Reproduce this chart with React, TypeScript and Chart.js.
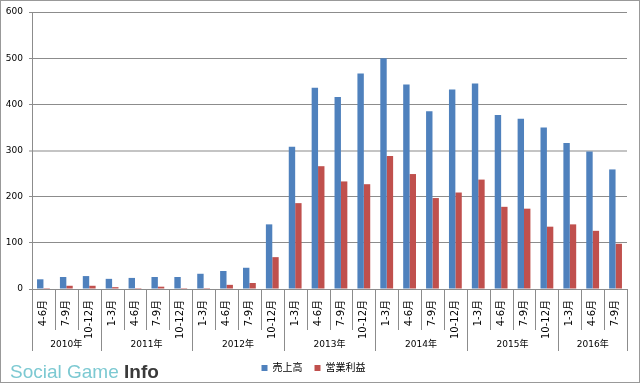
import React, { useEffect, useRef } from 'react';
import { Chart, registerables } from 'chart.js';
Chart.register(...registerables);

const quarters = [
  '4-6月', '7-9月', '10-12月',
  '1-3月', '4-6月', '7-9月', '10-12月',
  '1-3月', '4-6月', '7-9月', '10-12月',
  '1-3月', '4-6月', '7-9月', '10-12月',
  '1-3月', '4-6月', '7-9月', '10-12月',
  '1-3月', '4-6月', '7-9月', '10-12月',
  '1-3月', '4-6月', '7-9月',
];
const years = ['2010年', '2011年', '2012年', '2013年', '2014年', '2015年', '2016年'];
const yearSpans = [3, 4, 4, 4, 4, 4, 3];
const sales = [21, 26, 28, 22, 24, 26, 26, 33, 39, 46, 140, 308, 436, 416, 467, 500, 443, 385, 432, 445, 377, 369, 350, 316, 298, 259];
const profit = [2, 7, 7, 4, 2, 5, 2, 2, 9, 13, 69, 186, 266, 233, 227, 288, 249, 197, 209, 237, 178, 174, 135, 140, 126, 98];
const seriesNames = ['売上高', '営業利益'];
const yTicks = [0, 100, 200, 300, 400, 500, 600];

const FAMILY = "'DejaVu Sans', 'Noto Sans CJK JP', sans-serif";
const BLUE = '#4F81BD';
const RED = '#C0504D';
const GRID = '#8c8c8c';

const groupPlugin = {
  id: 'groupAxis',
  afterDraw(chart: any) {
    const ctx = chart.ctx;
    const xs = chart.scales.x;
    const area = chart.chartArea;
    const n = quarters.length;
    const step = (xs.right - xs.left) / n;
    const boundaries = new Set<number>();
    let acc = 0;
    boundaries.add(0);
    yearSpans.forEach((s) => { acc += s; boundaries.add(acc); });
    ctx.save();
    ctx.strokeStyle = GRID;
    ctx.lineWidth = 1;
    for (let i = 0; i <= n; i++) {
      const x = Math.round(xs.left + i * step) + 0.5;
      ctx.beginPath();
      ctx.moveTo(x, area.bottom);
      ctx.lineTo(x, boundaries.has(i) ? 351 : 330);
      ctx.stroke();
    }
    ctx.fillStyle = '#000';
    ctx.font = `9px ${FAMILY}`;
    ctx.textAlign = 'center';
    ctx.textBaseline = 'middle';
    let start = 0;
    years.forEach((y, k) => {
      const end = start + yearSpans[k];
      const cx = xs.left + ((start + end) / 2) * step;
      ctx.fillText(y, cx, 345);
      start = end;
    });
    // watermark
    ctx.textAlign = 'left';
    ctx.textBaseline = 'alphabetic';
    ctx.font = `19px 'Liberation Sans', sans-serif`;
    ctx.fillStyle = '#7cc9d2';
    const a = 'Social Game ';
    ctx.fillText(a, 10, 378);
    const w = ctx.measureText(a).width;
    ctx.font = `bold 19px 'Liberation Sans', sans-serif`;
    ctx.fillStyle = '#3a3a3a';
    ctx.fillText('Info', 10 + w, 378);
    // frame
    ctx.strokeStyle = '#999';
    ctx.strokeRect(0.5, 0.5, chart.width - 1, chart.height - 1);
    ctx.restore();
  },
};

const bgPlugin = {
  id: 'bg',
  beforeDraw(chart: any) {
    const ctx = chart.ctx;
    ctx.save();
    ctx.fillStyle = '#fff';
    ctx.fillRect(0, 0, chart.width, chart.height);
    ctx.restore();
  },
};

export default function App() {
  const ref = useRef<HTMLCanvasElement>(null);
  useEffect(() => {
    if (!ref.current) return;
    const chart = new Chart(ref.current, {
      type: 'bar',
      data: {
        labels: quarters,
        datasets: [
          { label: seriesNames[0], data: sales, backgroundColor: BLUE, borderWidth: 0 },
          { label: seriesNames[1], data: profit, backgroundColor: RED, borderWidth: 0 },
        ],
      },
      options: {
        responsive: false,
        animation: false,
        layout: { padding: { left: 0, right: 13, top: 12, bottom: 0 } },
        datasets: { bar: { categoryPercentage: 0.56, barPercentage: 1 } } as any,
        scales: {
          x: {
            offset: true,
            grid: { display: false },
            border: { display: false },
            ticks: {
              autoSkip: false,
              maxRotation: 90,
              minRotation: 90,
              padding: 3,
              color: '#000',
              font: { family: FAMILY, size: 10 },
            },
            afterFit: (s: any) => { s.height = 62; },
          },
          y: {
            min: 0,
            max: 600,
            afterBuildTicks: (s: any) => { s.ticks = yTicks.map((v) => ({ value: v })); },
            grid: {
              color: (c: any) => (c.tick && c.tick.value === 300 ? '#c4c4c4' : GRID),
              lineWidth: (c: any) => (c.tick && c.tick.value === 300 ? 2 : 1),
              tickLength: 3,
            },
            border: { display: true, color: GRID },
            ticks: {
              padding: 6,
              color: '#000',
              font: { family: FAMILY, size: 9 },
            },
            afterFit: (s: any) => { s.width = 32; },
          },
        },
        plugins: {
          legend: {
            position: 'bottom',
            labels: {
              usePointStyle: true,
              pointStyle: 'rect',
              boxWidth: 6,
              boxHeight: 6,
              padding: 12,
              color: '#000',
              font: { family: FAMILY, size: 10 },
            },
          },
          tooltip: { enabled: false },
        },
      },
      plugins: [bgPlugin, groupPlugin],
    });
    return () => chart.destroy();
  }, []);
  return (
    <div style={{ position: 'absolute', left: 0, top: 0, width: 640, height: 383 }}>
      <canvas ref={ref} width={640} height={383} />
    </div>
  );
}
